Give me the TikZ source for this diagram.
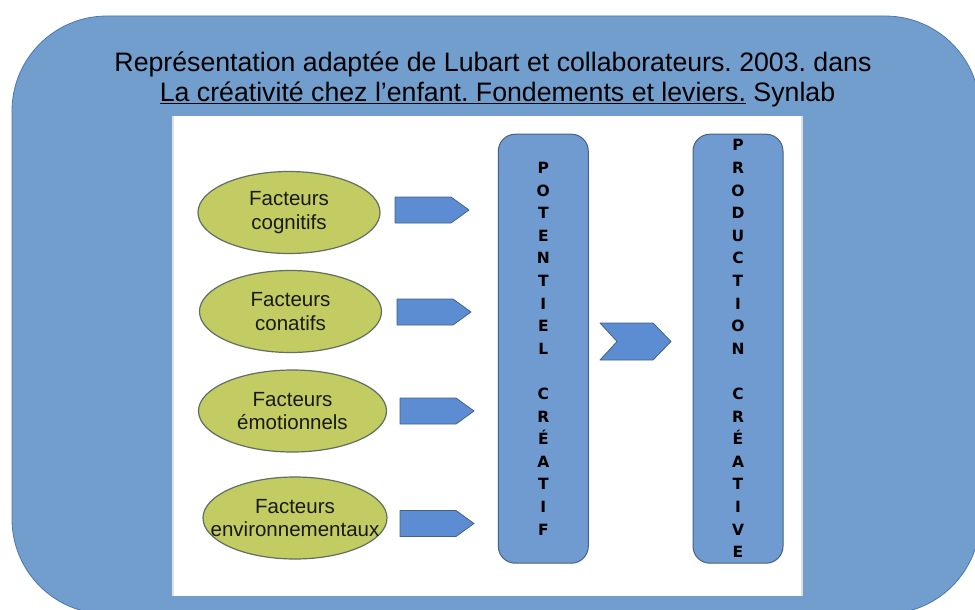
\documentclass[tikz,border=0pt]{standalone}
\usepackage{fontspec}
\setmainfont{Liberation Sans}
\newfontfamily\letterfont{DejaVu Sans}
\usepackage{xcolor}
\usetikzlibrary{shapes.geometric}
\frenchspacing
\definecolor{panelblue}{HTML}{729ECE}
\definecolor{panelline}{HTML}{4A78B0}
\definecolor{boxblue}{HTML}{6F9BD1}
\definecolor{boxline}{HTML}{45637F}
\definecolor{arrowblue}{HTML}{5C8DD3}
\definecolor{factgreen}{HTML}{C3CC62}
\definecolor{factline}{HTML}{5F6F60}
\tikzstyle{panel}=[fill=panelblue,draw=panelline,line width=.8pt]
\tikzstyle{photo}=[fill=white]
\tikzstyle{titletext}=[inner sep=0pt,font=\fontsize{26.7}{31}\selectfont]
\tikzstyle{factor}=[ellipse,fill=factgreen,draw=factline,line width=1.2pt,minimum width=182pt,minimum height=82pt,inner sep=0pt]
\tikzstyle{factortext}=[align=center,inner sep=0pt,text=black!90,font=\fontsize{20.5}{23.5}\selectfont]
\tikzstyle{tallbox}=[rectangle,rounded corners=17pt,fill=boxblue,draw=boxline,line width=1pt,minimum width=90pt,minimum height=429pt,inner sep=0pt,align=center,font=\letterfont\bfseries\fontsize{15.5}{22.6}\selectfont]
\tikzstyle{plate}=[fill=arrowblue,draw=boxline,line width=.8pt,line join=round]
\newcommand\homeplate[2]{\draw[plate] (#1-37,#2-13) -- (#1+19,#2-13) -- (#1+37,#2) -- (#1+19,#2+13) -- (#1-37,#2+13) -- cycle;}
\begin{document}
\begin{tikzpicture}[x=1pt,y=-1pt]
	\useasboundingbox (0,0) rectangle (975,610);
	\begin{scope}
		\clip (0,0) rectangle (975,610);
		\draw[panel,rounded corners=95pt] (12,16) rectangle (980,614);
	\end{scope}
	\fill[photo] (172,116) rectangle (803,596);
	\draw[black!12,line width=2pt] (173,116) -- (173,596) (802,116) -- (802,596);
	\node[titletext,anchor=base] (title1) at (493,72) {Représentation adaptée de Lubart et collaborateurs. 2003. dans};
	\node[titletext,anchor=base] (title2) at (497.5,102) {\underline{La créativité chez l’enfant. Fondements et leviers.} Synlab};
	\node[factor] (f1) at (289,212.5) {};
	\node[factor] (f2) at (290.5,311.5) {};
	\node[factor,minimum width=188pt] (f3) at (292.5,411) {};
	\node[factor,minimum width=184pt] (f4) at (295,518) {};
	\node[factortext] (f1t) at (f1) {Facteurs\\cognitifs};
	\node[factortext] (f2t) at (f2) {Facteurs\\conatifs};
	\node[factortext] (f3t) at (f3) {Facteurs\\émotionnels};
	\node[factortext] (f4t) at (f4) {Facteurs\\environnementaux};
	\homeplate{432}{210}
	\homeplate{434}{312}
	\homeplate{437}{411}
	\homeplate{437}{523.5}
	\node[tallbox] (potentiel) at (543.3,348.7) {P\\O\\T\\E\\N\\T\\I\\E\\L\\\mbox{}\\C\\R\\É\\A\\T\\I\\F};
	\node[tallbox] (production) at (738,348.7) {P\\R\\O\\D\\U\\C\\T\\I\\O\\N\\\mbox{}\\C\\R\\É\\A\\T\\I\\V\\E};
	\draw[plate] (600,323) -- (653,323) -- (671,341.5) -- (653,360) -- (600,360) -- (617,341.5) -- cycle;
\end{tikzpicture}
\end{document}
